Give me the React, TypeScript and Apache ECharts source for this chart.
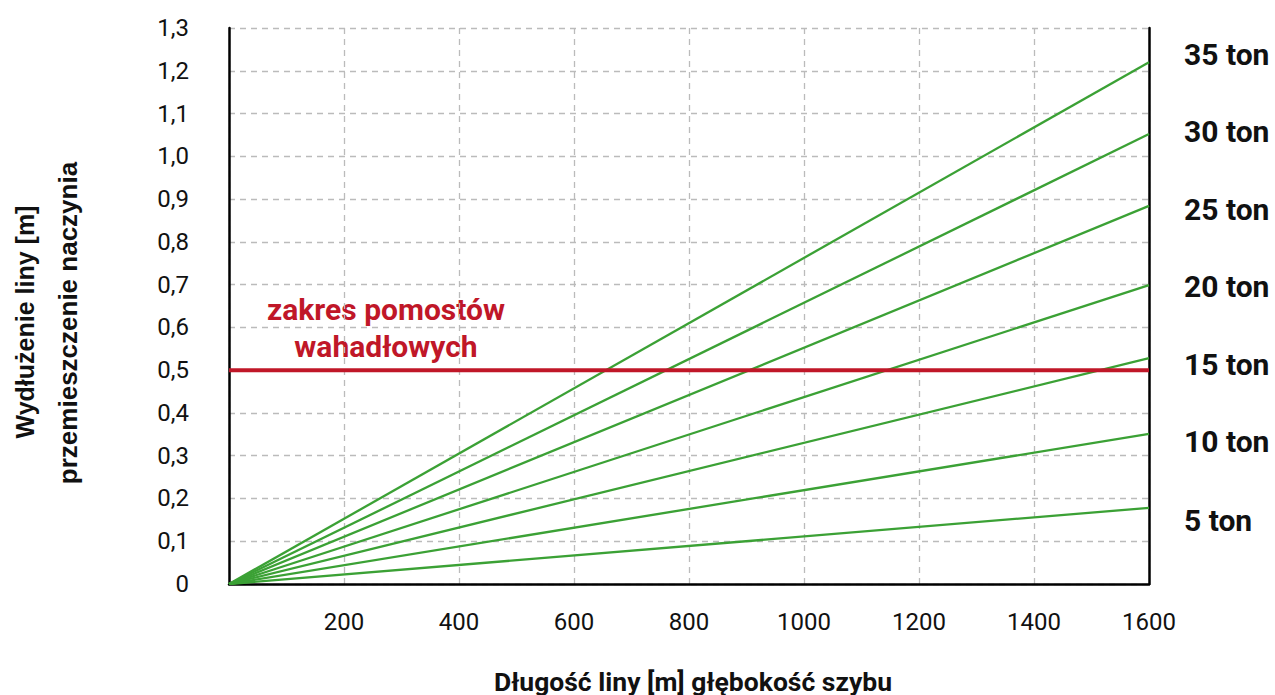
import React, { useEffect, useRef } from "react";
import * as echarts from "echarts";

const loads = ["5 ton", "10 ton", "15 ton", "20 ton", "25 ton", "30 ton", "35 ton"];
const startElong = [0, 0, 0, 0, 0, 0, 0];
const endElong = [0.178, 0.351, 0.528, 0.699, 0.884, 1.052, 1.22];
const lengthRange = [0, 1600];
const platformLimit = 0.5;
const platformLabel = "zakres pomostów\nwahadłowych";
const xTitle = "Długość liny [m] głębokość szybu";
const yTitle1 = "Wydłużenie liny [m]";
const yTitle2 = "przemieszczenie naczynia";
const loadLabelY = [520, 441, 364, 286, 209, 131, 54];

const GREEN = "#3ba135";
const RED = "#c01728";
const FONT = "Roboto";

export default function App() {
  const ref = useRef<HTMLDivElement>(null);
  useEffect(() => {
    if (!ref.current) return;
    const chart = echarts.init(ref.current, undefined, { renderer: "svg" });
    const series: any[] = loads.map((name, i) => ({
      name,
      type: "line",
      data: [
        [lengthRange[0], startElong[i]],
        [lengthRange[1], endElong[i]],
      ],
      symbol: "none",
      lineStyle: { color: GREEN, width: 2.3 },
      z: 3,
    }));
    series.push({
      name: "limit",
      type: "line",
      data: [
        [lengthRange[0], platformLimit],
        [lengthRange[1], platformLimit],
      ],
      symbol: "none",
      lineStyle: { color: RED, width: 4 },
      z: 4,
    });
    const graphics: any[] = loads.map((name, i) => ({
      type: "text",
      x: 1184,
      y: loadLabelY[i],
      style: {
        text: name,
        fontSize: 30,
        fontWeight: "bold",
        fontFamily: FONT,
        fill: "#111",
        align: "left",
        verticalAlign: "middle",
      },
    }));
    graphics.push({
      type: "text",
      x: 386,
      y: 328,
      style: {
        text: platformLabel,
        fontSize: 30,
        fontWeight: "bold",
        fontFamily: FONT,
        fill: RED,
        align: "center",
        verticalAlign: "middle",
        lineHeight: 37,
      },
    });
    graphics.push({
      type: "text",
      x: 693,
      y: 681,
      style: {
        text: xTitle,
        fontSize: 26.5,
        fontWeight: "bold",
        fontFamily: FONT,
        fill: "#111",
        align: "center",
        verticalAlign: "middle",
      },
    });
    graphics.push({
      type: "text",
      x: 25,
      y: 322,
      rotation: Math.PI / 2,
      style: {
        text: yTitle1,
        fontSize: 25,
        fontWeight: "bold",
        fontFamily: "Liberation Sans",
        fill: "#111",
        align: "center",
        verticalAlign: "middle",
      },
    });
    graphics.push({
      type: "text",
      x: 68,
      y: 323,
      rotation: Math.PI / 2,
      style: {
        text: yTitle2,
        fontSize: 26,
        fontWeight: "bold",
        fontFamily: "Liberation Sans",
        fill: "#111",
        align: "center",
        verticalAlign: "middle",
      },
    });
    chart.setOption({
      animation: false,
      backgroundColor: "#fff",
      grid: { left: 229, right: 126, top: 28, bottom: 111 },
      xAxis: {
        type: "value",
        min: 0,
        max: 1600,
        interval: 200,
        axisLine: { show: true, onZero: false, lineStyle: { color: "#000", width: 2.5 } },
        axisTick: { show: false },
        axisLabel: {
          margin: 26,
          fontFamily: FONT,
          fontSize: 24,
          color: "#111",
          formatter: (v: number) => (v === 0 ? "" : String(v)),
        },
        splitLine: { show: true, lineStyle: { color: "#bbb", type: [6, 5], width: 1.3 } },
      },
      yAxis: [
        {
          type: "value",
          min: 0,
          max: 1.3,
          interval: 0.1,
          axisLine: { show: true, onZero: false, lineStyle: { color: "#000", width: 2.5 } },
          axisTick: { show: false },
          axisLabel: {
            margin: 40,
            fontFamily: FONT,
            fontSize: 24,
            color: "#111",
            formatter: (v: number) => {
              const r = Math.round(v * 10) / 10;
              return r === 0 ? "0" : r.toFixed(1).replace(".", ",");
            },
          },
          splitLine: { show: true, lineStyle: { color: "#bbb", type: [6, 5], width: 1.3 } },
        },
        {
          type: "value",
          min: 0,
          max: 1.3,
          interval: 0.1,
          position: "right",
          axisLine: { show: true, onZero: false, lineStyle: { color: "#000", width: 2.5 } },
          axisTick: { show: false },
          axisLabel: { show: false },
          splitLine: { show: false },
        },
      ],
      series,
      graphic: graphics,
    });
    return () => chart.dispose();
  }, []);
  return (
    <div
      ref={ref}
      style={{ position: "fixed", left: 0, top: 0, width: 1275, height: 695, overflow: "hidden" }}
    />
  );
}
